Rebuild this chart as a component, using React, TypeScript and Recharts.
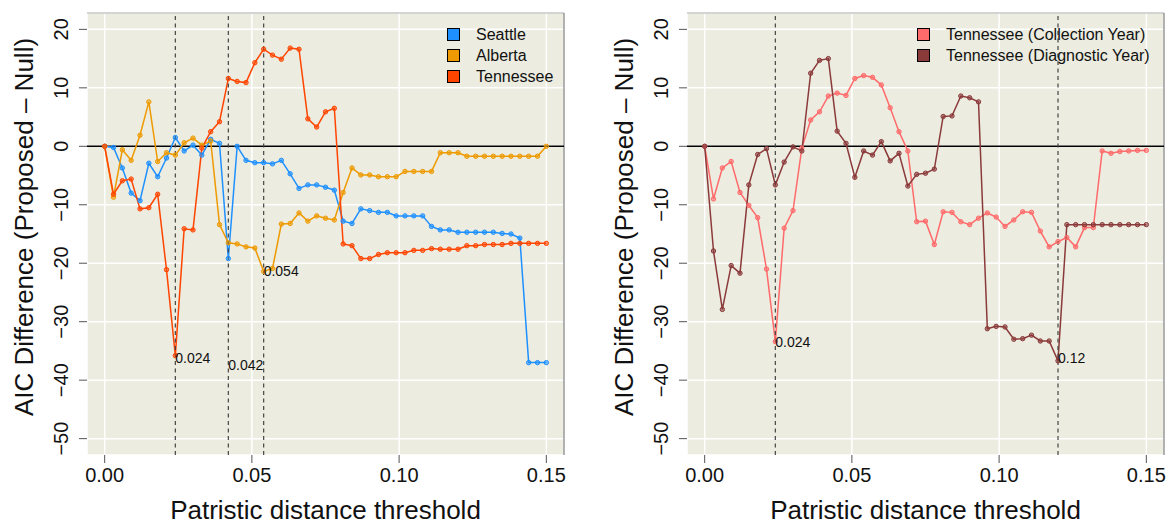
import { LineChart, Line, XAxis, YAxis, CartesianGrid, ReferenceLine, ReferenceDot, Label } from 'recharts';

// ─── Data ──────────────────────────────────────────────────────────────────────
const THRESHOLDS = [
  0, 0.003, 0.006, 0.009, 0.012, 0.015, 0.018, 0.021, 0.024, 0.027,
  0.03, 0.033, 0.036, 0.039, 0.042, 0.045, 0.048, 0.051, 0.054, 0.057,
  0.06, 0.063, 0.066, 0.069, 0.072, 0.075, 0.078, 0.081, 0.084, 0.087,
  0.09, 0.093, 0.096, 0.099, 0.102, 0.105, 0.108, 0.111, 0.114, 0.117,
  0.12, 0.123, 0.126, 0.129, 0.132, 0.135, 0.138, 0.141, 0.144, 0.147, 0.15,
];

const SEATTLE = [
  0, -0.2, -3.7, -8, -9.3, -2.9, -5.2, -2, 1.5, -0.8,
  0.2, -1.5, 1.2, 0.5, -19.2, 0, -2.4, -2.8, -2.8, -3,
  -2.4, -4.7, -7.2, -6.6, -6.6, -7, -7.5, -12.8, -13.2, -10.7,
  -11, -11.3, -11.3, -11.9, -11.9, -11.9, -11.9, -13.7, -14.3, -14.3,
  -14.7, -14.7, -14.7, -14.7, -14.7, -14.9, -15, -15.7, -37, -37, -37,
];

const ALBERTA = [
  0, -8.7, -0.6, -2.4, 1.9, 7.6, -2.6, -1.1, -1.5, 0.6,
  1.4, 0.2, 0.9, -13.4, -16.5, -16.7, -17.2, -17.4, -21.4, -20.9,
  -13.3, -13.2, -11.4, -12.8, -11.9, -12.3, -12.6, -7.9, -3.7, -4.9,
  -4.9, -5.2, -5.2, -5.2, -4.3, -4.3, -4.3, -4.3, -1.1, -1.1,
  -1.1, -1.7, -1.7, -1.7, -1.7, -1.7, -1.7, -1.7, -1.7, -1.7, 0,
];

const TENNESSEE = [
  0, -8.2, -5.9, -5.6, -10.7, -10.5, -8.2, -21.1, -35.8, -14.1,
  -14.3, -0.3, 2.5, 4.2, 11.6, 11.1, 10.9, 14.3, 16.6, 15.6,
  14.9, 16.8, 16.6, 4.7, 3.3, 5.9, 6.5, -16.7, -17, -19.2,
  -19.2, -18.5, -18.2, -18.2, -18.2, -17.8, -17.8, -17.5, -17.6, -17.6,
  -17.6, -17, -17, -16.8, -16.8, -16.8, -16.6, -16.6, -16.6, -16.6, -16.6,
];

const TN_COLLECTION = [
  0, -9, -3.7, -2.6, -7.9, -10.1, -12.2, -21, -33.4, -14,
  -11, -0.3, 4.5, 5.9, 8.6, 9.1, 8.7, 11.6, 12.1, 11.8,
  10.5, 6.6, 2.5, -0.8, -12.9, -12.8, -16.8, -11.2, -11.3, -12.9,
  -13.4, -12.3, -11.4, -12.1, -13.7, -12.6, -11.2, -11.3, -14.5, -17.2,
  -16.3, -15.6, -17.2, -13.9, -13.9, -0.8, -1.2, -0.9, -0.8, -0.7, -0.7,
];

const TN_DIAGNOSTIC = [
  0, -17.9, -27.9, -20.4, -21.7, -6.6, -1.4, -0.4, -6.6, -2.7,
  -0.1, -0.8, 12.5, 14.7, 15, 2.6, 0.5, -5.3, -0.8, -1.5,
  0.8, -2.5, -1.2, -6.8, -4.8, -4.6, -3.9, 5.1, 5.2, 8.6,
  8.3, 7.6, -31.2, -30.8, -30.9, -33, -32.9, -32.3, -33.3, -33.3,
  -36.7, -13.4, -13.4, -13.4, -13.4, -13.4, -13.4, -13.4, -13.4, -13.4, -13.4,
];

const X_TICKS = [0, 0.05, 0.1, 0.15];
const Y_TICKS = [-50, -40, -30, -20, -10, 0, 10, 20];

const LEFT_CUTOFFS = [0.024, 0.042, 0.054];
const LEFT_NOTES = [
  { x: 0.024, y: -36.3, text: '0.024' },
  { x: 0.042, y: -37.4, text: '0.042' },
  { x: 0.054, y: -21.3, text: '0.054' },
];
const RIGHT_CUTOFFS = [0.024, 0.12];
const RIGHT_NOTES = [
  { x: 0.024, y: -33.5, text: '0.024' },
  { x: 0.12, y: -36.3, text: '0.12' },
];

// ─── Style ─────────────────────────────────────────────────────────────────────
const FONT = '"Liberation Sans", Arial, Helvetica, sans-serif';
const BG = '#ECECE0';
const W = 586;
const H = 525;

interface Series { key: string; name: string; color: string; values: number[] }

const LEFT_SERIES: Series[] = [
  { key: 'sea', name: 'Seattle',   color: '#1E90FF', values: SEATTLE },
  { key: 'alb', name: 'Alberta',   color: '#EE9A00', values: ALBERTA },
  { key: 'tn',  name: 'Tennessee', color: '#FF4500', values: TENNESSEE },
];
const RIGHT_SERIES: Series[] = [
  { key: 'col', name: 'Tennessee (Collection Year)', color: '#FF6A6A', values: TN_COLLECTION },
  { key: 'dia', name: 'Tennessee (Diagnostic Year)', color: '#8B3A3A', values: TN_DIAGNOSTIC },
];

const fmtY = (v: number) => (v < 0 ? '\u2212' + Math.abs(v) : String(v));

function Panel({ series, cutoffs, notes, legendX }: {
  series: Series[];
  cutoffs: number[];
  notes: { x: number; y: number; text: string }[];
  legendX: number;
}) {
  const rows = THRESHOLDS.map((x, i) => {
    const r: Record<string, number> = { x };
    series.forEach(s => { r[s.key] = s.values[i]; });
    return r;
  });

  return (
    <div style={{ position: 'relative', width: W, height: H }}>
      <LineChart width={W} height={H} data={rows} margin={{ top: 13, right: 22, bottom: 0, left: 0 }}>
        <CartesianGrid fill={BG} stroke="#fff" strokeWidth={1.5} />
        <XAxis
          dataKey="x" type="number" domain={[-0.006, 0.156]} ticks={X_TICKS}
          allowDataOverflow interval={0} height={70}
          axisLine={false} tickSize={8} tickLine={{ stroke: '#555' }}
          tick={(p: any) => (
            <text x={p.x} y={482} textAnchor="middle" fontSize={20} fontFamily={FONT} fill="#111">
              {Number(p.payload.value).toFixed(2)}
            </text>
          )}
        >
          <Label content={() => (
            <text x={325.5} y={519} textAnchor="middle" fontSize={26} fontFamily={FONT} fill="#111">
              Patristic distance threshold
            </text>
          )} />
        </XAxis>
        <YAxis
          type="number" domain={[-52.8, 22.8]} ticks={Y_TICKS} allowDataOverflow interval={0}
          width={87} axisLine={false} tickSize={8} tickLine={{ stroke: '#555' }}
          tick={(p: any) => (
            <text x={68} y={p.y} transform={`rotate(-90, 68, ${p.y})`} textAnchor="middle"
              fontSize={20} fontFamily={FONT} fill="#111">
              {fmtY(p.payload.value)}
            </text>
          )}
        >
          <Label content={() => (
            <text x={33} y={227} transform="rotate(-90, 33, 227)" textAnchor="middle"
              fontSize={26} fontFamily={FONT} fill="#111">
              AIC Difference (Proposed – Null)
            </text>
          )} />
        </YAxis>
        <ReferenceLine y={22.8} stroke="#aaa" strokeWidth={1} />
        <ReferenceLine x={0.156} stroke="#666" strokeWidth={1} />
        <ReferenceLine y={0} stroke="#000" strokeWidth={1.6} />
        {series.map(s => (
          <Line
            key={s.key} dataKey={s.key} stroke={s.color} strokeWidth={1.5}
            dot={{ r: 2.2, fill: s.color, fillOpacity: 0.55, stroke: s.color, strokeWidth: 1 }}
            activeDot={false} isAnimationActive={false}
          />
        ))}
        {cutoffs.map(c => (
          <ReferenceLine key={c} x={c} stroke="#444" strokeWidth={1.2} strokeDasharray="4 3.5" />
        ))}
        {notes.map(n => (
          <ReferenceDot
            key={n.text} x={n.x} y={n.y} r={0}
            shape={(p: any) => (
              <text x={p.cx} y={p.cy} dy="0.35em" fontSize={14} fontFamily={FONT} fill="#111">{n.text}</text>
            )}
          />
        ))}
      </LineChart>
      <div style={{ position: 'absolute', left: legendX, top: 24, fontFamily: FONT, fontSize: 16, color: '#111' }}>
        {series.map(s => (
          <div key={s.key} style={{ display: 'flex', alignItems: 'center', height: 21 }}>
            <span style={{ width: 11, height: 11, background: s.color, border: '1px solid #000', marginRight: 16 }} />
            <span>{s.name}</span>
          </div>
        ))}
      </div>
    </div>
  );
}

export default function App() {
  return (
    <div style={{ position: 'absolute', left: 0, top: 0, width: 1172, height: 525, background: '#fff', overflow: 'hidden' }}>
      <div style={{ position: 'absolute', left: 0, top: 0 }}>
        <Panel series={LEFT_SERIES} cutoffs={LEFT_CUTOFFS} notes={LEFT_NOTES} legendX={447} />
      </div>
      <div style={{ position: 'absolute', left: 600, top: 0 }}>
        <Panel series={RIGHT_SERIES} cutoffs={RIGHT_CUTOFFS} notes={RIGHT_NOTES} legendX={317} />
      </div>
    </div>
  );
}
